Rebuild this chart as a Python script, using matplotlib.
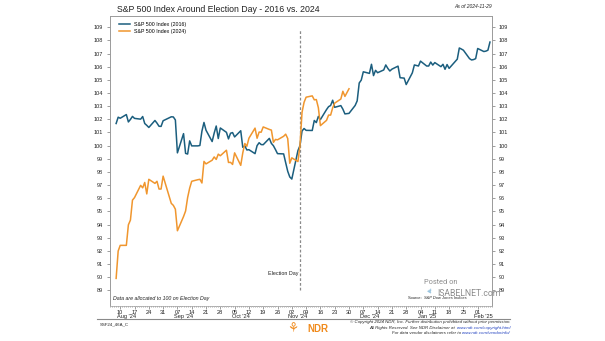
import matplotlib
matplotlib.use("Agg")
import matplotlib.pyplot as plt
import matplotlib.dates as mdates
from matplotlib.lines import Line2D
import pandas as pd

# ─── Datos: índice S&P 500 = 100 el día de la elección ─────────────
SP_2016 = [
    101.68, 102.16, 102.08, 102.36, 101.80, 101.99, 102.22, 102.07, 102.01, 102.21,
    101.68, 101.54, 101.38, 101.91, 101.71, 101.47,
    101.46, 101.89, 102.19, 102.18, 101.95, 99.45, 100.91, 99.41, 99.36, 100.36,
    99.98, 99.98, 100.01, 101.10, 101.76, 101.17, 100.31, 100.95, 101.49, 100.54, 101.34,
    101.01, 100.51, 100.94, 100.99, 100.66, 101.13, 99.87, 99.98, 99.67, 99.69,
    99.39, 100.00, 100.22, 100.08, 100.07, 100.55, 100.17, 99.99, 99.70, 99.39, 99.37,
    98.70, 98.05, 97.62, 97.46, 99.62, 100.00,
    101.11, 101.30, 101.16, 101.15, 101.91, 101.75, 102.22, 101.98, 102.74, 102.96,
    103.05, 103.45, 102.91, 103.04, 102.77,
    102.41, 102.45, 103.05, 103.40, 104.76, 104.98, 105.61, 105.49, 106.18, 105.32,
    105.72, 105.54, 105.75, 106.13, 105.87, 105.67, 105.81, 106.04, 105.16, 105.13, 104.64,
    105.53, 106.13, 106.05, 106.42, 106.05, 106.05, 106.35, 106.12, 106.31, 106.00,
    106.18, 105.80, 106.16, 105.87, 106.57, 107.42, 107.34, 107.25, 106.61, 106.51,
    106.54, 106.61, 107.38, 107.15, 107.18, 107.25, 107.87,
]

SP_2024 = [
    89.91, 91.99, 92.42, 92.42, 93.98, 94.34, 95.86, 96.05, 96.98, 96.79,
    97.20, 96.33, 97.44, 97.13, 97.29, 96.70, 96.70, 97.68,
    95.61, 95.46, 95.17, 93.53, 94.61, 95.03, 96.05, 96.77, 97.29, 97.41,
    97.44, 97.16, 98.80, 98.61, 98.89, 99.14, 98.95, 99.35, 99.23, 99.65,
    98.72, 98.73, 98.57, 99.45, 98.50, 99.45, 100.16, 99.95, 100.56, 101.33,
    100.56, 101.03, 101.02, 101.42, 101.23, 101.18, 100.25, 100.47, 100.44, 100.71,
    100.87, 100.54, 98.66, 99.07, 98.79, 100.00,
    102.53, 103.29, 103.68, 103.78, 103.48, 103.50, 102.88, 101.52, 101.92, 102.32,
    102.32, 102.87, 103.23, 103.54, 104.13, 103.74, 104.32,
]

FERIADOS = ["2024-09-02", "2024-11-28", "2024-12-25", "2025-01-01", "2025-01-20"]
INICIO = "2024-08-07"
ELECCION = pd.Timestamp("2024-11-05")

Y_TICKS = list(range(89, 110))
SEMANAS = pd.date_range("2024-08-10", "2025-02-01", freq="7D")
MESES = {"2024-08-10": "Aug '24", "2024-09-07": "Sep '24", "2024-10-05": "Oct '24",
         "2024-11-02": "Nov '24", "2024-12-07": "Dec '24", "2025-01-04": "Jan '25",
         "2025-02-01": "Feb '25"}

AZUL = "#1b5e7e"
NARANJA = "#f0962e"
GRIS = "#9a9a9a"
TEXTO = "#222222"

plt.rcParams["font.family"] = ["Liberation Sans", "DejaVu Sans"]

# Eje de días hábiles 2024-25; cada punto se marca al cierre de la sesión
CIERRE = pd.Timedelta(days=1)
dias = pd.bdate_range(INICIO, periods=len(SP_2016), freq="C", holidays=FERIADOS) + CIERRE
x16 = dias
x24 = dias[: len(SP_2024)]

W, H = 605, 341
fig = plt.figure(figsize=(W / 100, H / 100), dpi=100)
ax = fig.add_axes([110 / W, 1 - 305.5 / H, (492 - 110) / W, (305.5 - 16) / H])

ax.plot(x16, SP_2016, color=AZUL, lw=1.1, solid_joinstyle="round", zorder=3)
ax.plot(x24, SP_2024, color=NARANJA, lw=1.1, solid_joinstyle="round", zorder=3)

ax.vlines(ELECCION + CIERRE, 89, 108.8, colors="#8a8a8a", linestyles=(0, (2.2, 1.6)),
          lw=0.9, zorder=2)
ax.text(ELECCION + CIERRE - pd.Timedelta(days=0.6), 90.3, "Election Day", ha="right",
        va="center", fontsize=3.9, color=TEXTO)

ax.set_xlim(pd.Timestamp("2024-08-05"), pd.Timestamp("2025-02-08"))
ax.set_ylim(87.85, 109.85)

# Ejes Y a ambos lados
ax.set_yticks(Y_TICKS)
ax.set_yticklabels([str(v) for v in Y_TICKS])
ax.tick_params(axis="y", which="both", left=True, right=True, labelleft=True, labelright=True,
               length=2, width=0.5, color="#777777", labelsize=4.0, labelcolor=TEXTO, pad=3)

# Eje X: semanal (sábados) con marcas diarias menores
ax.set_xticks(SEMANAS)
ax.set_xticklabels([d.strftime("%d") for d in SEMANAS])
ax.xaxis.set_minor_locator(mdates.DayLocator())
ax.tick_params(axis="x", which="major", length=2.2, width=0.5, color="#777777",
               labelsize=4.1, labelcolor=TEXTO, pad=1.2)
ax.tick_params(axis="x", which="minor", length=1.0, width=0.5, color="#888888")

for fecha, etiqueta in MESES.items():
    ax.text(pd.Timestamp(fecha) + pd.Timedelta(days=3), -0.031, etiqueta,
            transform=ax.get_xaxis_transform(), ha="center", va="top",
            fontsize=4.1, color=TEXTO)

for lado in ("left", "right", "top"):
    ax.spines[lado].set_color(GRIS)
    ax.spines[lado].set_linewidth(0.7)
ax.spines["bottom"].set_color("#aaaaaa")
ax.spines["bottom"].set_linestyle((0, (0.8, 1.2)))
ax.spines["bottom"].set_linewidth(0.7)

# Leyenda
manejadores = [Line2D([], [], color=AZUL, lw=1.1), Line2D([], [], color=NARANJA, lw=1.1)]
ax.legend(manejadores, ["S&P 500 Index (2016)", "S&P 500 Index (2024)"], loc="upper left",
          bbox_to_anchor=(0.012, 0.995), frameon=False, fontsize=3.8, handlelength=2.0,
          handletextpad=0.7, labelspacing=0.3, borderaxespad=0.5)

ax.text(0.008, 0.025, "Data are allocated to 100 on Election Day", transform=ax.transAxes,
        ha="left", va="center", fontsize=3.8, style="italic", color=TEXTO)
fuente = ax.text(0.933, 0.025, "S&P Dow Jones Indices", transform=ax.transAxes,
                 ha="right", va="center", fontsize=2.9, style="italic", color=TEXTO)
ax.annotate("Source:  ", xy=(0, 0.5), xycoords=fuente, ha="right", va="center",
            fontsize=2.9, color=TEXTO)

# Marca de agua
fig.text(441 / W, 1 - 283 / H, "Posted on", ha="center", va="center", fontsize=5.3,
         color="#8c8c8c", family=["Roboto", "DejaVu Sans"])
fig.text(437 / W, 1 - 293 / H, "ISABELNET.com", ha="left", va="center", fontsize=6.2,
         color="#8c8c8c", family=["Roboto", "DejaVu Sans"])
fig.text(428 / W, 1 - 292 / H, "\u25b2", ha="center", va="center", fontsize=5.5,
         color="#9cc6e0", rotation=-30)

# Títulos y pie
fig.text(117 / W, 1 - 9.5 / H, "S&P 500 Index Around Election Day - 2016 vs. 2024",
         ha="left", va="center", fontsize=6.3, color=TEXTO)
fig.text(492 / W, 1 - 7 / H, "As of 2024-11-29", ha="right", va="center",
         fontsize=3.6, style="italic", color=TEXTO)
fig.text(100 / W, 1 - 324 / H, "SSF24_46A_C", ha="left", va="center", fontsize=3.2, color=TEXTO)
fig.add_artist(Line2D([97 / W, 510 / W], [1 - 319 / H, 1 - 319 / H], color="#8a8a8a", lw=0.8))
fig.text(293 / W, 1 - 328 / H, "\u2698", ha="center", va="center", fontsize=9,
         color="#f08a1c", family=["DejaVu Sans"])
fig.text(318 / W, 1 - 328.5 / H, "NDR", ha="center", va="center", fontsize=7.0,
         weight="bold", color="#f08a1c")

# Pie legal, con los enlaces en azul
pie = [
    ("\u00a9 Copyright 2024 NDR, Inc. Further distribution prohibited without prior permission.", ""),
    ("All Rights Reserved. See NDR Disclaimer at ", "www.ndr.com/copyright.html"),
    ("For data vendor disclaimers refer to ", "www.ndr.com/vendorinfo/"),
]
for i, (txt, enlace) in enumerate(pie):
    y = 1 - (322 + i * 5.6) / H
    if enlace:
        t = fig.text(511 / W, y, enlace, ha="right", va="center", fontsize=3.2,
                     style="italic", color="#1f3fbf")
        ax.annotate(txt, xy=(0, 0.5), xycoords=t, ha="right", va="center", fontsize=3.2,
                    style="italic", color=TEXTO, annotation_clip=False)
    else:
        fig.text(511 / W, y, txt, ha="right", va="center", fontsize=3.2,
                 style="italic", color=TEXTO)

fig.savefig("out.png", dpi=100)
